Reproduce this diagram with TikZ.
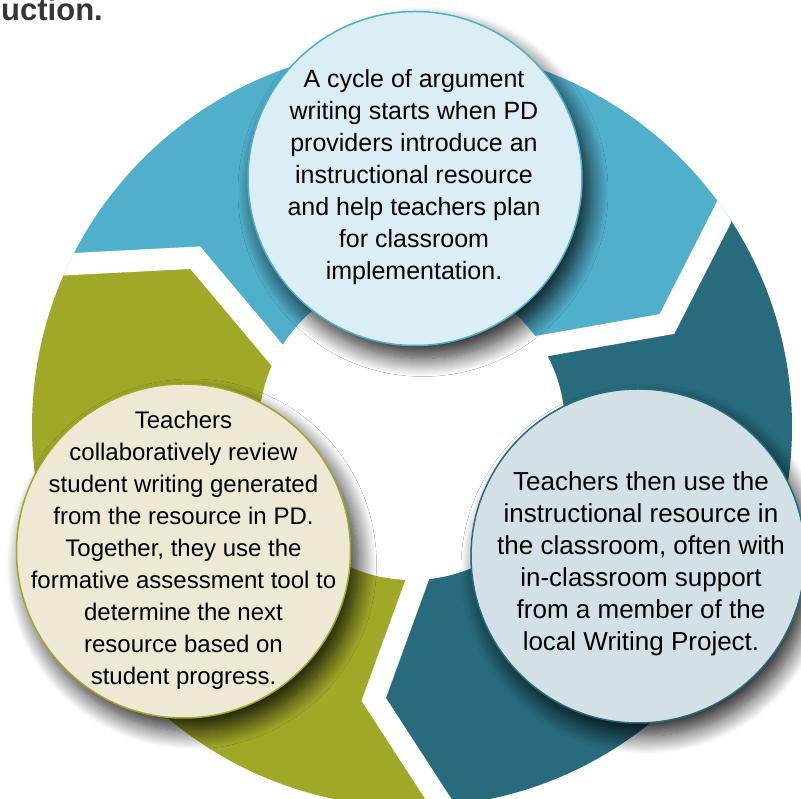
\documentclass[tikz,border=0pt]{standalone}
\usepackage{fontspec}
\setmainfont{Liberation Sans}
\usetikzlibrary{shadows.blur}
\definecolor{segblue}{HTML}{50AFCB}
\definecolor{segteal}{HTML}{276B7D}
\definecolor{segolive}{HTML}{A0A828}
\definecolor{filltop}{HTML}{DBEEF5}
\definecolor{fillright}{HTML}{D3E1E6}
\definecolor{fillleft}{HTML}{EDE9D4}
\definecolor{titlegray}{HTML}{363636}
\tikzset{
  gapline/.style={draw=white,line width=22pt,line join=miter},
  bubble/.style={circle,inner sep=0pt,minimum size=334pt,line width=1.5pt,
    blur shadow={shadow xshift=8pt,shadow yshift=-13pt,shadow blur radius=18pt,
      shadow blur steps=18,shadow opacity=85}},
  bubtext/.style={align=center,inner sep=0pt,text=black},
}
\newcommand{\ringseg}[2]{%
  \begin{scope}[rotate=#2]
    \fill[#1] (0,0) -- (160:114.3) -- (142:275) -- (160.1:464) -- (120:900)
      -- (60:900) -- (40.1:464) -- (22:275) -- (40:114.3) -- cycle;
  \end{scope}}
\newcommand{\ringgap}[1]{%
  \begin{scope}[rotate=#1]
    \draw[gapline] (160.1:464) -- (142:275) -- (160:114.3);
  \end{scope}}
\begin{document}
\begin{tikzpicture}[x=1pt,y=1pt]
\useasboundingbox (-412,-372) rectangle (389,427);
\clip (-412,-372) rectangle (389,427);
% title fragment
\node[anchor=base east,inner sep=0pt,font=\fontsize{31}{36}\selectfont\bfseries,text=titlegray]
  (title) at (-309,406) {uction.};
% ring
\begin{scope}
  \clip (0,0) circle (380);
  \ringseg{segblue}{0}
  \ringseg{segolive}{120}
  \ringseg{segteal}{-120}
  \ringgap{0}
  \ringgap{-120}
  \ringgap{120}
\end{scope}
\fill[white] (0,0) circle (153);
% bubbles
\node[bubble,fill=filltop,draw=segblue] (ctop) at (3,248.5) {};
\node[bubble,fill=fillright,draw=segteal] (cright) at (226,-129) {};
\node[bubble,fill=fillleft,draw=segolive] (cleft) at (-228.5,-124) {};
% texts
\node[bubtext,font=\fontsize{25}{32}\selectfont] (ttop) at (2,250) {A cycle of argument\\writing starts when PD\\providers introduce an\\instructional resource\\and help teachers plan\\for classroom\\implementation.};
\node[bubtext,font=\fontsize{26}{32}\selectfont] (tright) at (229,-137) {Teachers then use the\\instructional resource in\\the classroom, often with\\in-classroom support\\from a member of the\\local Writing Project.};
\node[bubtext,font=\fontsize{24}{32}\selectfont] (tleft) at (-228.5,-123.6) {Teachers\\collaboratively review\\student writing generated\\from the resource in PD.\\Together, they use the\\formative assessment tool to\\determine the next\\resource based on\\student progress.};
\end{tikzpicture}
\end{document}
